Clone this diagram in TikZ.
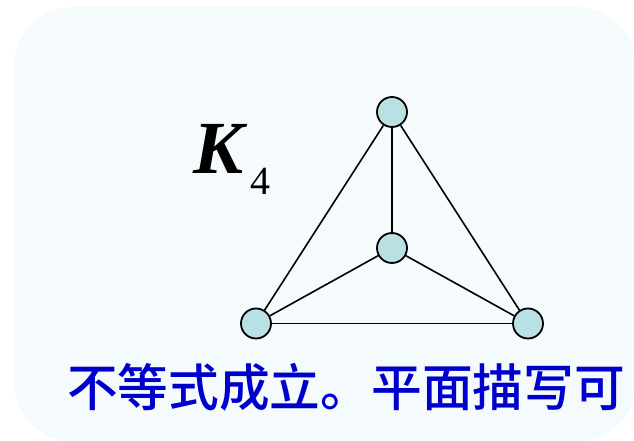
\documentclass[tikz,border=0pt]{standalone}
\usepackage{fontspec}
\setmainfont{Liberation Serif}
\newfontfamily\cjk{Noto Sans CJK SC Medium}
\definecolor{bgpanel}{HTML}{F5FAFC}
\definecolor{vfill}{HTML}{B9E0E2}
\definecolor{txtblue}{HTML}{0000CC}
\tikzset{
  vertex/.style={circle, draw=black, line width=1.8pt, fill=vfill, minimum size=30pt, inner sep=0pt},
  edge/.style={draw=black, line width=1.6pt}
}
\begin{document}
\begin{tikzpicture}[x=1pt,y=1pt]
\useasboundingbox (0,0) rectangle (634,441);
\clip (0,0) rectangle (634,441);
\fill[bgpanel, rounded corners=60pt] (14,-1) rectangle (636,434);
\node[vertex] (t) at (392,329) {};
\node[vertex] (m) at (392,193) {};
\node[vertex] (l) at (256,117.5) {};
\node[vertex] (r) at (528,117.5) {};
\draw[edge] (t) -- (m);
\draw[edge] (t) -- (l);
\draw[edge] (t) -- (r);
\draw[edge] (m) -- (l);
\draw[edge] (m) -- (r);
\draw[edge] (l) -- (r);
\node[anchor=base west, inner sep=0pt] (k) at (193,267) {\fontsize{75}{75}\selectfont\bfseries\itshape K};
\node[anchor=base west, inner sep=0pt] (four) at (250,246) {\fontsize{40}{40}\selectfont 4};
\node[anchor=base, inner sep=0pt, text=txtblue] (cap) at (346,34) {\fontsize{50.7}{50.7}\selectfont\cjk 不等式成立。平面描写可};
\end{tikzpicture}
\end{document}
